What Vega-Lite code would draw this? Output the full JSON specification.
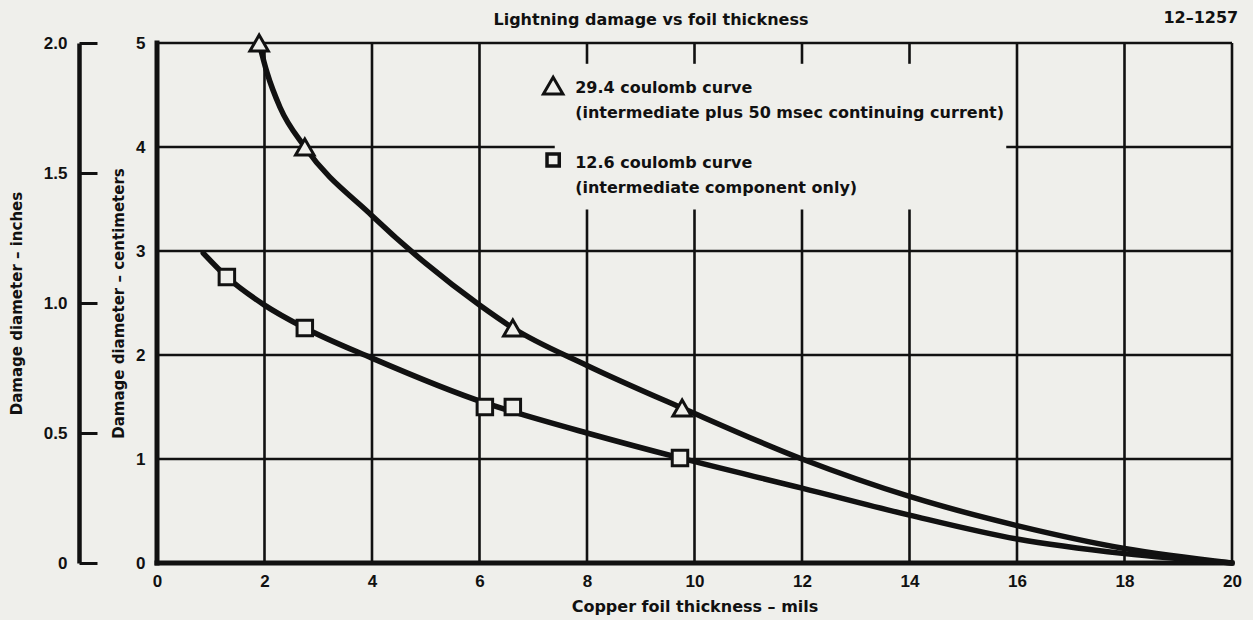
{
  "$schema": "https://vega.github.io/schema/vega-lite/v6.json",
  "width": 1075,
  "height": 520,
  "autosize": {"type": "none"},
  "padding": {"left": 157, "top": 43, "right": 21, "bottom": 57},
  "background": "#efefeb",
  "datasets": {
    "vgrid": [
      {"x": 2, "y": 0, "y2": 5},
      {"x": 4, "y": 0, "y2": 5},
      {"x": 6, "y": 0, "y2": 5},
      {"x": 8, "y": 0, "y2": 3.4},
      {"x": 8, "y": 4.8, "y2": 5},
      {"x": 10, "y": 0, "y2": 3.4},
      {"x": 10, "y": 4.8, "y2": 5},
      {"x": 12, "y": 0, "y2": 3.4},
      {"x": 12, "y": 4.8, "y2": 5},
      {"x": 14, "y": 0, "y2": 3.4},
      {"x": 14, "y": 4.8, "y2": 5},
      {"x": 16, "y": 0, "y2": 5},
      {"x": 18, "y": 0, "y2": 5},
      {"x": 20, "y": 0, "y2": 5}
    ],
    "hgrid": [
      {"y": 1, "x": 0, "x2": 20},
      {"y": 2, "x": 0, "x2": 20},
      {"y": 3, "x": 0, "x2": 20},
      {"y": 4, "x": 0, "x2": 7.4},
      {"y": 4, "x": 15.8, "x2": 20},
      {"y": 5, "x": 0, "x2": 20}
    ],
    "frame": [
      {"x": 0, "x2": 0, "y": 0, "y2": 5},
      {"x": 0, "x2": 20, "y": 0, "y2": 0}
    ],
    "curves": [
      {"series": "29.4 coulomb", "x": 1.9, "y": 5.0},
      {"series": "29.4 coulomb", "x": 2.05, "y": 4.71},
      {"series": "29.4 coulomb", "x": 2.29, "y": 4.38},
      {"series": "29.4 coulomb", "x": 2.75, "y": 4.0},
      {"series": "29.4 coulomb", "x": 4.0, "y": 3.34},
      {"series": "29.4 coulomb", "x": 5.0, "y": 2.88},
      {"series": "29.4 coulomb", "x": 6.0, "y": 2.48},
      {"series": "29.4 coulomb", "x": 6.62, "y": 2.26},
      {"series": "29.4 coulomb", "x": 8.0, "y": 1.9},
      {"series": "29.4 coulomb", "x": 9.77, "y": 1.49},
      {"series": "29.4 coulomb", "x": 12.0, "y": 1.0},
      {"series": "29.4 coulomb", "x": 14.0, "y": 0.64},
      {"series": "29.4 coulomb", "x": 16.0, "y": 0.36},
      {"series": "29.4 coulomb", "x": 18.0, "y": 0.14},
      {"series": "29.4 coulomb", "x": 20.0, "y": 0.0},
      {"series": "12.6 coulomb", "x": 0.86, "y": 2.98},
      {"series": "12.6 coulomb", "x": 1.3, "y": 2.75},
      {"series": "12.6 coulomb", "x": 2.0, "y": 2.48},
      {"series": "12.6 coulomb", "x": 2.75, "y": 2.26},
      {"series": "12.6 coulomb", "x": 4.0, "y": 1.97},
      {"series": "12.6 coulomb", "x": 6.1, "y": 1.54},
      {"series": "12.6 coulomb", "x": 6.62, "y": 1.455},
      {"series": "12.6 coulomb", "x": 8.0, "y": 1.25},
      {"series": "12.6 coulomb", "x": 9.73, "y": 1.01},
      {"series": "12.6 coulomb", "x": 12.0, "y": 0.72},
      {"series": "12.6 coulomb", "x": 14.0, "y": 0.46},
      {"series": "12.6 coulomb", "x": 16.0, "y": 0.23},
      {"series": "12.6 coulomb", "x": 18.0, "y": 0.09},
      {"series": "12.6 coulomb", "x": 20.0, "y": 0.0}
    ],
    "triangles": [
      {"x": 1.9, "y": 5.0},
      {"x": 2.75, "y": 4.0},
      {"x": 6.62, "y": 2.26},
      {"x": 9.77, "y": 1.49}
    ],
    "squares": [
      {"x": 1.3, "y": 2.75},
      {"x": 2.75, "y": 2.26},
      {"x": 6.1, "y": 1.5},
      {"x": 6.62, "y": 1.5},
      {"x": 9.73, "y": 1.01}
    ],
    "legendTri": [{"x": 7.37, "y": 4.59}],
    "legendSq": [{"x": 7.37, "y": 3.875}],
    "legendText": [
      {"x": 7.78, "y": 4.57, "text": "29.4 coulomb curve"},
      {"x": 7.78, "y": 4.33, "text": "(intermediate plus 50 msec continuing current)"},
      {"x": 7.78, "y": 3.85, "text": "12.6 coulomb curve"},
      {"x": 7.78, "y": 3.61, "text": "(intermediate component only)"}
    ],
    "titleText": [
      {"x": 9.19, "y": 5.22, "text": "Lightning damage vs foil thickness", "kind": "title"},
      {"x": 19.42, "y": 5.24, "text": "12–1257", "kind": "id"}
    ],
    "inch": [{"inch": 0}, {"inch": 2}]
  },
  "layer": [
    {
      "layer": [
        {
          "data": {"name": "vgrid"},
          "mark": {"type": "rule", "color": "#111111", "strokeWidth": 2.6},
          "encoding": {
            "x": {
              "field": "x", "type": "quantitative",
              "scale": {"domain": [0, 20], "nice": false, "zero": false},
              "axis": {
                "title": "Copper foil thickness – mils",
                "values": [0, 2, 4, 6, 8, 10, 12, 14, 16, 18, 20],
                "format": "d",
                "labelFlush": false,
                "labelPadding": 10,
                "titlePadding": 9,
                "titleFontSize": 16
              }
            },
            "y": {
              "field": "y", "type": "quantitative",
              "scale": {"domain": [0, 5], "nice": false},
              "axis": {
                "title": "Damage diameter – centimeters",
                "values": [0, 1, 2, 3, 4, 5],
                "format": "d",
                "labelPadding": 12,
                "titlePadding": 9
              }
            },
            "y2": {"field": "y2"}
          }
        },
        {
          "data": {"name": "hgrid"},
          "mark": {"type": "rule", "color": "#111111", "strokeWidth": 2.6},
          "encoding": {
            "x": {"field": "x", "type": "quantitative"},
            "x2": {"field": "x2"},
            "y": {"field": "y", "type": "quantitative"}
          }
        },
        {
          "data": {"name": "frame"},
          "mark": {"type": "rule", "color": "#111111", "strokeWidth": 5, "strokeCap": "square"},
          "encoding": {
            "x": {"field": "x", "type": "quantitative"},
            "x2": {"field": "x2"},
            "y": {"field": "y", "type": "quantitative"},
            "y2": {"field": "y2"}
          }
        },
        {
          "data": {"name": "curves"},
          "mark": {"type": "line", "color": "#111111", "strokeWidth": 5.5, "interpolate": "monotone", "strokeCap": "round"},
          "encoding": {
            "x": {"field": "x", "type": "quantitative"},
            "y": {"field": "y", "type": "quantitative"},
            "detail": {"field": "series", "type": "nominal"}
          }
        },
        {
          "data": {"name": "triangles"},
          "mark": {"type": "point", "shape": "triangle-up", "size": 340, "filled": true, "fill": "#efefeb", "stroke": "#111111", "strokeWidth": 3, "opacity": 1},
          "encoding": {
            "x": {"field": "x", "type": "quantitative"},
            "y": {"field": "y", "type": "quantitative"}
          }
        },
        {
          "data": {"name": "squares"},
          "mark": {"type": "point", "shape": "square", "size": 240, "filled": true, "fill": "#efefeb", "stroke": "#111111", "strokeWidth": 3, "opacity": 1},
          "encoding": {
            "x": {"field": "x", "type": "quantitative"},
            "y": {"field": "y", "type": "quantitative"}
          }
        },
        {
          "data": {"name": "legendTri"},
          "mark": {"type": "point", "shape": "triangle-up", "size": 380, "filled": true, "fill": "#efefeb", "stroke": "#111111", "strokeWidth": 3, "opacity": 1},
          "encoding": {
            "x": {"field": "x", "type": "quantitative"},
            "y": {"field": "y", "type": "quantitative"}
          }
        },
        {
          "data": {"name": "legendSq"},
          "mark": {"type": "point", "shape": "square", "size": 150, "filled": true, "fill": "#efefeb", "stroke": "#111111", "strokeWidth": 3.5, "opacity": 1},
          "encoding": {
            "x": {"field": "x", "type": "quantitative"},
            "y": {"field": "y", "type": "quantitative"}
          }
        },
        {
          "data": {"name": "legendText"},
          "mark": {"type": "text", "align": "left", "baseline": "middle", "font": "DejaVu Sans", "fontSize": 16, "fontWeight": "bold", "color": "#111111"},
          "encoding": {
            "x": {"field": "x", "type": "quantitative"},
            "y": {"field": "y", "type": "quantitative"},
            "text": {"field": "text", "type": "nominal"}
          }
        },
        {
          "data": {"name": "titleText"},
          "mark": {"type": "text", "align": "center", "baseline": "middle", "font": "DejaVu Sans", "fontSize": 16, "fontWeight": "bold", "color": "#111111"},
          "encoding": {
            "x": {"field": "x", "type": "quantitative"},
            "y": {"field": "y", "type": "quantitative"},
            "text": {"field": "text", "type": "nominal"}
          }
        }
      ]
    },
    {
      "data": {"name": "inch"},
      "mark": {"type": "point", "opacity": 0},
      "encoding": {
        "y": {
          "field": "inch", "type": "quantitative",
          "scale": {"domain": [0, 2], "nice": false},
          "axis": {
            "orient": "left",
            "offset": 78,
            "title": "Damage diameter – inches",
            "values": [0, 0.5, 1, 1.5, 2],
            "labelExpr": "datum.value == 0 ? '0' : format(datum.value, '.1f')",
            "domain": true,
            "domainColor": "#111111",
            "domainWidth": 4.5,
            "ticks": true,
            "tickSize": -18,
            "tickWidth": 3,
            "tickColor": "#111111",
            "labelPadding": 30,
            "titlePadding": 19
          }
        }
      }
    }
  ],
  "resolve": {"scale": {"y": "independent"}, "axis": {"y": "independent"}},
  "config": {
    "view": {"stroke": null},
    "axis": {
      "grid": false,
      "domain": false,
      "ticks": false,
      "labelFont": "Liberation Sans",
      "labelFontWeight": "bold",
      "labelFontSize": 17,
      "labelColor": "#111111",
      "titleFont": "DejaVu Sans",
      "titleFontWeight": "bold",
      "titleFontSize": 15,
      "titleColor": "#111111"
    }
  }
}
